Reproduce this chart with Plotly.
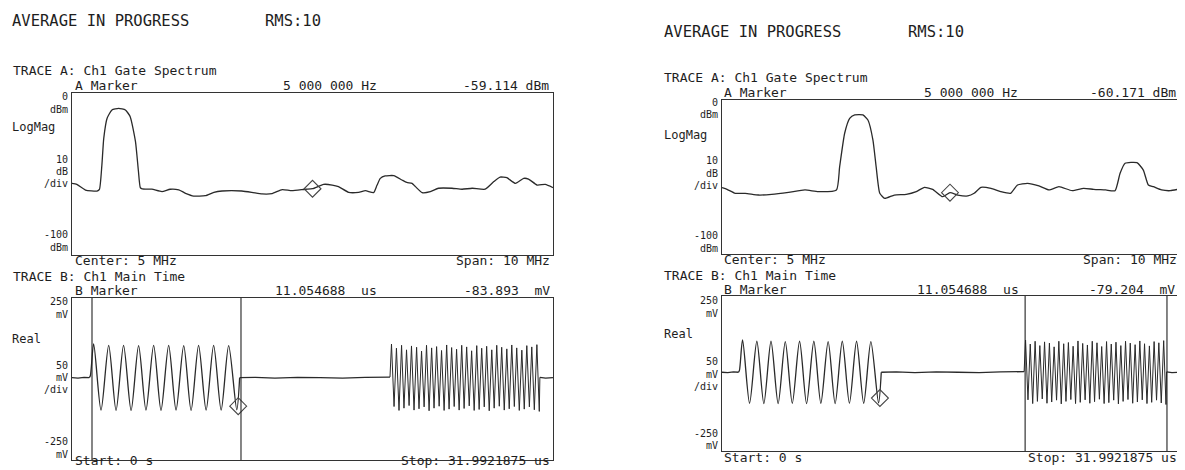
import plotly.graph_objects as go

# page window is 1185x470; the html body adds an 8px margin, so the figure is drawn 8px in
PAGE_W, PAGE_H = 1185, 470
OFF = 8
W, H = PAGE_W - OFF, PAGE_H - OFF

# ---------------- data ----------------
# Trace A (gate spectrum), left screen: frequency (MHz) / level (dBm)
spec_left_mhz = [0.00, 0.10, 0.28, 0.52, 0.57, 0.62, 0.66, 0.73, 0.83, 0.97, 1.11, 1.21, 1.32, 1.38, 1.42,
                 1.46, 1.66, 1.87, 2.04, 2.22, 2.36, 2.53, 2.77, 2.95, 3.12, 3.53, 3.74, 3.95, 4.16, 4.37,
                 4.57, 4.85, 5.00, 5.23, 5.41, 5.54, 5.75, 5.96, 6.10, 6.27, 6.34, 6.41, 6.51, 6.69, 6.86,
                 6.96, 7.07, 7.14, 7.28, 7.45, 7.62, 7.90, 8.11, 8.32, 8.59, 8.77, 8.90, 9.04, 9.22, 9.39,
                 9.49, 9.67, 9.84, 10.00]
spec_left_dbm = [-55.8, -56.4, -59.9, -60.5, -59.5, -45.0, -28.0, -15.6, -10.5, -9.5, -10.5, -14.6, -30.0, -48.0, -58.4,
                 -59.2, -59.4, -60.9, -59.4, -59.8, -61.9, -63.6, -63.4, -61.3, -60.5, -60.5, -61.3, -62.3, -62.1, -59.6,
                 -60.3, -59.4, -59.1, -56.4, -56.8, -57.8, -61.3, -61.3, -60.3, -61.5, -57.0, -52.7, -51.2, -51.0, -53.7,
                 -55.2, -55.8, -57.8, -61.5, -60.9, -58.8, -58.8, -59.4, -58.8, -59.4, -54.7, -51.9, -52.3, -55.8, -52.7,
                 -53.1, -56.8, -56.4, -58.4]

# Trace A (gate spectrum), right screen
spec_right_mhz = [0.00, 0.11, 0.29, 0.51, 0.80, 1.09, 1.46, 1.82, 2.11, 2.51, 2.58, 2.69, 2.80, 2.91, 3.09,
                  3.20, 3.31, 3.38, 3.46, 3.57, 3.78, 4.04, 4.26, 4.44, 4.62, 4.84, 5.00, 5.17, 5.39, 5.53,
                  5.68, 5.90, 6.11, 6.33, 6.48, 6.70, 6.95, 7.17, 7.39, 7.68, 7.93, 8.15, 8.41, 8.62, 8.73,
                  8.84, 9.10, 9.24, 9.35, 9.46, 9.64, 9.83, 10.00]
spec_right_dbm = [-56.9, -58.0, -60.6, -60.6, -61.7, -61.3, -60.0, -58.4, -59.5, -58.4, -43.3, -21.6, -11.9, -9.7, -9.7,
                  -13.0, -26.0, -43.3, -60.6, -63.9, -61.7, -61.3, -59.5, -56.7, -58.0, -62.8, -60.2, -61.7, -62.3, -60.6,
                  -56.7, -57.4, -59.5, -60.6, -55.2, -54.1, -55.8, -58.4, -56.3, -58.9, -57.4, -58.0, -58.4, -58.9, -47.6,
                  -41.1, -40.7, -45.5, -55.2, -56.3, -58.4, -58.9, -58.0]

# Trace B (main time): baseline segments (time us / mV), None = gap
base_us = [0.00, 0.40, 0.80, 1.15, None, 11.15, 12.20, 13.50, 15.00, 16.50, 18.00, 19.50, 20.90, 21.15, None, 31.12, 31.50, 31.99]
base_mv = [4, 3, 5, 4, None, 4, 5, 3, 5, 4, 3, 5, 4, 6, None, 5, 3, 4]

# 1 MHz burst: vertices (time us / mV)
burst1_us = [1.15, 1.22, 1.44, 1.93, 2.44, 2.93, 3.43, 3.93, 4.43, 4.92, 5.43, 5.92, 6.43, 6.92,
             7.43, 7.92, 8.42, 8.92, 9.42, 9.92, 10.42, 10.96, 11.15]
burst1_mv = [4, 10, 108, -96, 104, -97, 104, -97, 103, -96, 104, -97, 104, -96,
             103, -97, 104, -96, 104, -96, 103, -95, 4]

# 3 MHz burst: peaks and troughs (time us / mV)
burst2_peak_us = [21.25, 21.58, 21.92, 22.25, 22.58, 22.92, 23.25, 23.58, 23.92, 24.25, 24.58, 24.92, 25.25, 25.58, 25.92,
                  26.25, 26.58, 26.92, 27.25, 27.58, 27.92, 28.25, 28.58, 28.92, 29.25, 29.58, 29.92, 30.25, 30.58, 30.92]
burst2_peak_mv = [108, 95, 104, 90, 102, 98, 86, 104, 96, 100, 88, 105, 97, 92, 104,
                  99, 87, 103, 95, 101, 90, 104, 98, 93, 105, 96, 89, 103, 99, 106]
burst2_trough_us = [21.42, 21.75, 22.08, 22.42, 22.75, 23.08, 23.42, 23.75, 24.08, 24.42, 24.75, 25.08, 25.42, 25.75, 26.08,
                    26.42, 26.75, 27.08, 27.42, 27.75, 28.08, 28.42, 28.75, 29.08, 29.42, 29.75, 30.08, 30.42, 30.75, 31.08]
burst2_trough_mv = [-85, -97, -90, -82, -96, -92, -86, -98, -90, -84, -97, -93, -85, -96, -91,
                    -83, -97, -94, -86, -98, -90, -84, -96, -92, -85, -97, -93, -86, -95, -100]

# gates (time us)
gate_left_us = [1.33, 11.24]
gate_right_us = [21.22, 31.15]

# markers
marker_a_mhz = 5.0
marker_a_left_dbm = -59.114
marker_a_right_dbm = -60.171
marker_b_us = 11.054688
marker_b_left_mv = -83.893
marker_b_right_mv = -79.204

# axis scale
spec_range_mhz = [0, 10]
spec_range_dbm = [-100, 0]
time_range_us = [0, 31.9921875]
time_range_mv = [-250, 250]

# ---------------- figure ----------------
LINE = '#2a2a2a'
FONT = 'DejaVu Sans Mono'
FS = 13       # line texts
SS = 10       # side labels
SP = 12.2     # side label line pitch
TS = 15.5     # status line
TXT_COLOR = '#1e1e1e'

fig = go.Figure()

def px_x(px):
    return (px - OFF) / W

def px_y(py):
    return 1 - (py - OFF) / H

# panel geometry in page pixels: (left, right, top, bottom)
panels = {
    1: (72, 553, 93, 255),
    2: (72, 553, 298, 460),
    3: (722, 1178, 100, 254),
    4: (722, 1179, 296, 451),
}

def ax_common():
    return dict(showline=True, mirror=True, linecolor='#333', linewidth=1.2,
                showgrid=False, zeroline=False, showticklabels=False, ticks='', fixedrange=True)

layout_axes = {}
for i, (l, r, t, b) in panels.items():
    sx = '' if i == 1 else str(i)
    layout_axes['xaxis' + sx] = dict(domain=[px_x(l), px_x(r)], anchor='y' + sx,
                                     range=spec_range_mhz if i in (1, 3) else time_range_us, **ax_common())
    layout_axes['yaxis' + sx] = dict(domain=[px_y(b), px_y(t)], anchor='x' + sx,
                                     range=spec_range_dbm if i in (1, 3) else time_range_mv, **ax_common())

# burst2 interleaved
b2_us = [21.15]
b2_mv = [6]
for pt, pv, tt, tv in zip(burst2_peak_us, burst2_peak_mv, burst2_trough_us, burst2_trough_mv):
    b2_us += [pt, tt]
    b2_mv += [pv, tv]
b2_us.append(31.12)
b2_mv.append(5)

lw = 1.3
for ax, (fx, fy, mk) in {1: (spec_left_mhz, spec_left_dbm, marker_a_left_dbm),
                          3: (spec_right_mhz, spec_right_dbm, marker_a_right_dbm)}.items():
    xa, ya = ('x', 'y') if ax == 1 else ('x3', 'y3')
    fig.add_trace(go.Scatter(x=fx, y=fy, mode='lines', xaxis=xa, yaxis=ya,
                             line=dict(color=LINE, width=lw, shape='spline', smoothing=0.5)))
    fig.add_trace(go.Scatter(x=[marker_a_mhz], y=[mk], mode='markers', xaxis=xa, yaxis=ya,
                             marker=dict(symbol='diamond-open', size=13, color='#444', line=dict(width=1.1))))

for ax, (gate, mk) in {2: (gate_left_us, marker_b_left_mv), 4: (gate_right_us, marker_b_right_mv)}.items():
    xa, ya = 'x%d' % ax, 'y%d' % ax
    fig.add_trace(go.Scatter(x=base_us, y=base_mv, mode='lines', xaxis=xa, yaxis=ya,
                             line=dict(color=LINE, width=lw)))
    fig.add_trace(go.Scatter(x=burst1_us, y=burst1_mv, mode='lines', xaxis=xa, yaxis=ya,
                             line=dict(color=LINE, width=lw, shape='spline', smoothing=0.8)))
    fig.add_trace(go.Scatter(x=b2_us, y=b2_mv, mode='lines', xaxis=xa, yaxis=ya,
                             line=dict(color=LINE, width=1.0)))
    fig.add_trace(go.Scatter(x=[marker_b_us], y=[mk], mode='markers', xaxis=xa, yaxis=ya,
                             marker=dict(symbol='diamond-open', size=13, color='#444', line=dict(width=1.1))))
    for g in gate:
        fig.add_shape(type='line', xref=xa, yref=ya + ' domain', x0=g, x1=g, y0=0, y1=1,
                      line=dict(color='#222', width=1.1))

NB = '\u00a0'

def txt(s, x, y, anchor='left', size=FS, yanchor='middle'):
    d = dict(text=s.replace(' ', NB), x=px_x(x), y=px_y(y), xref='paper', yref='paper',
             xanchor=anchor, yanchor=yanchor, showarrow=False, align=anchor,
             font=dict(family=FONT, size=size, color=TXT_COLOR))
    if yanchor == 'bottom':
        d['y'] = 0
    return d

def stack(lines, x, yc):
    # right-aligned side labels, centred on yc
    n = len(lines)
    y0 = yc - SP * (n - 1) / 2
    return [txt(l, x, y0 + k * SP, 'right', SS) for k, l in enumerate(lines)]

ann = []
# ---- left screen ----
ann += [
    txt('AVERAGE IN PROGRESS', 10, 21, size=TS), txt('RMS:10', 263, 21, size=TS),
    txt('TRACE A: Ch1 Gate Spectrum', 11, 70), txt('A Marker', 73, 85.5),
    txt('5 000 000 Hz', 281, 85.5), txt('-59.114 dBm', 551, 85.5, 'right'),
    txt('LogMag', 10, 127, size=12),
    txt('Center: 5 MHz', 73, 260.5), txt('Span: 10 MHz', 552, 260.5, 'right'),
    txt('TRACE B: Ch1 Main Time', 11, 276), txt('B Marker', 73, 290.5),
    txt('11.054688  us', 273, 290.5), txt('-83.893  mV', 552, 290.5, 'right'),
    txt('Real', 10, 339, size=12),
    txt('Start: 0 s', 73, 466, yanchor='bottom'), txt('Stop: 31.9921875 us', 552, 466, 'right', yanchor='bottom'),
]
ann += stack(['0', 'dBm'], 70, 103)
ann += stack(['10', 'dB', '/div'], 70, 171.5)
ann += stack(['-100', 'dBm'], 70, 241)
ann += stack(['250', 'mV'], 70, 308)
ann += stack(['50', 'mV', '/div'], 70, 377.5)
ann += stack(['-250', 'mV'], 70, 448)
# ---- right screen ----
ann += [
    txt('AVERAGE IN PROGRESS', 662, 32, size=TS), txt('RMS:10', 906, 32, size=TS),
    txt('TRACE A: Ch1 Gate Spectrum', 662, 78), txt('A Marker', 722, 92.5),
    txt('5 000 000 Hz', 922, 92.5), txt('-60.171 dBm', 1178, 92.5, 'right'),
    txt('LogMag', 662, 135, size=12),
    txt('Center: 5 MHz', 722, 260), txt('Span: 10 MHz', 1179, 260, 'right'),
    txt('TRACE B: Ch1 Main Time', 662, 275), txt('B Marker', 722, 289.5),
    txt('11.054688  us', 915, 289.5), txt('-79.204  mV', 1177, 289.5, 'right'),
    txt('Real', 662, 334, size=12),
    txt('Start: 0 s', 722, 457), txt('Stop: 31.9921875 us', 1179, 457, 'right'),
]
ann += stack(['0', 'dBm'], 720, 108.5)
ann += stack(['10', 'dB', '/div'], 720, 173)
ann += stack(['-100', 'dBm'], 720, 242)
ann += stack(['250', 'mV'], 720, 307)
ann += stack(['50', 'mV', '/div'], 720, 374)
ann += stack(['-250', 'mV'], 720, 439.5)

fig.update_layout(width=W, height=H, margin=dict(l=0, r=0, t=0, b=0),
                  paper_bgcolor='white', plot_bgcolor='white', showlegend=False,
                  annotations=ann, **layout_axes)

fig.write_html('out.html')
